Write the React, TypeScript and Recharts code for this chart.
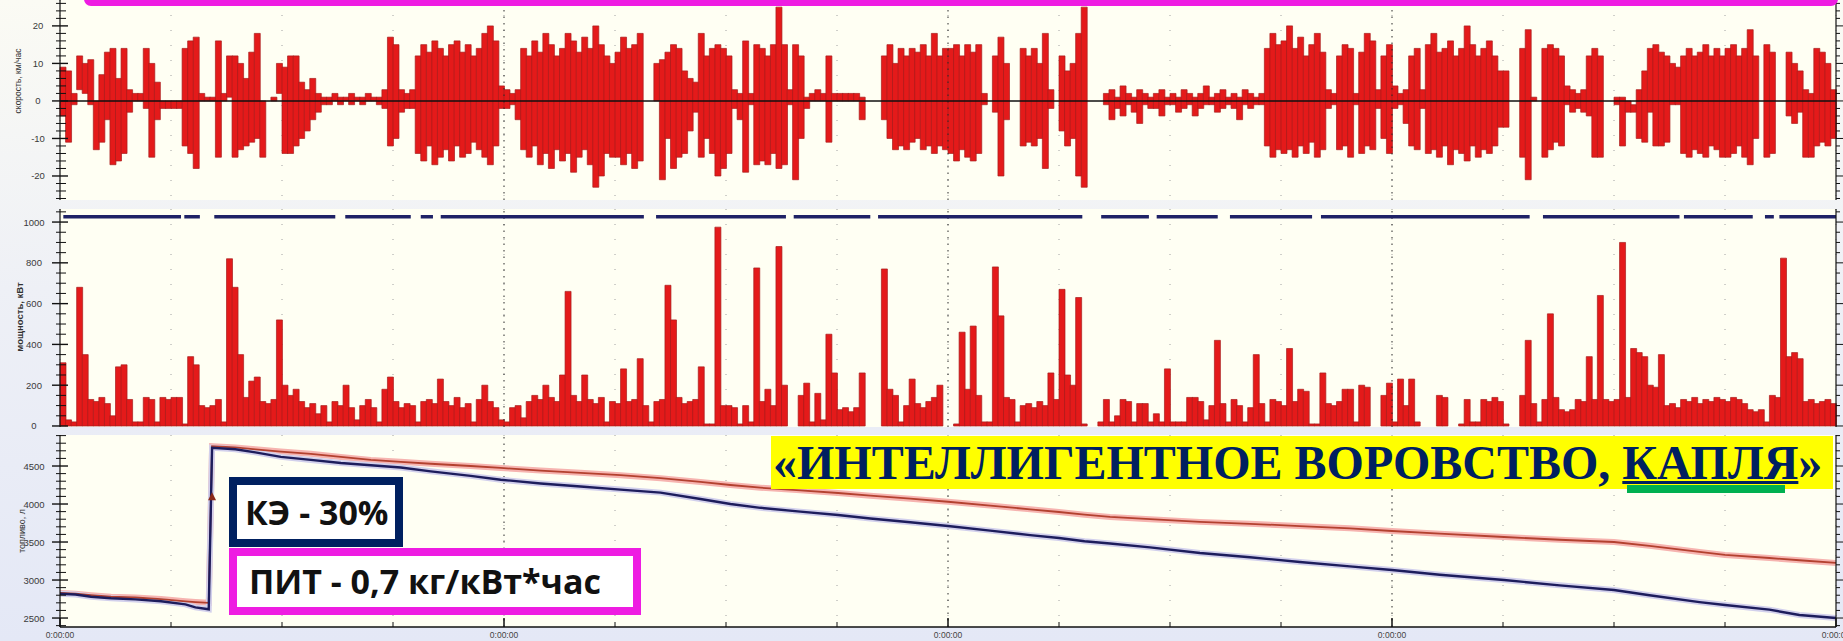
import React from "react";
import {
  ComposedChart,
  Bar,
  Line,
  XAxis,
  YAxis,
  CartesianGrid,
  ReferenceLine,
  ReferenceDot,
} from "recharts";

// ---- time axis: 16 grid steps, a label every 4th ----
const TIME_TICKS = [0, 100, 200, 300, 400, 500, 600, 700, 800, 900, 1000, 1100, 1200, 1300, 1400, 1500, 1600];
const LABELLED_TIMES = [0, 400, 800, 1200, 1600];
const TIME_LABEL = "0:00:00";
const BIN = 5; // one sample bin, in time units

// ---- speed, km/h: per bin upper and lower value (20 bins per grid step) ----
const speedHi = [
  9, 8, 2, 12, 10, 11, 0, 7, 13, 14, 6, 14, 3, 2, 2, 14, 10, 5, 0, 0,
  0, 0, 14, 16, 17, 2, 1, 1, 16, 2, 12, 12, 10, 6, 13, 18, 0, 0, 1, 10,
  9, 12, 12, 5, 3, 6, 2, 1, 1, 2, 1, 1, 2, 1, 1, 2, 1, 1, 3, 17,
  15, 3, 2, 3, 12, 15, 13, 16, 14, 12, 15, 16, 13, 15, 12, 14, 18, 20, 16, 4,
  3, 2, 3, 14, 12, 16, 13, 18, 15, 12, 14, 18, 16, 13, 17, 14, 20, 15, 12, 10,
  13, 17, 14, 15, 18, 0, 0, 10, 11, 13, 15, 14, 8, 6, 5, 18, 12, 14, 15, 14,
  12, 3, 2, 16, 2, 15, 14, 12, 15, 25, 15, 3, 15, 12, 1, 2, 3, 2, 12, 2,
  2, 2, 2, 2, 1, 0, 0, 0, 12, 15, 10, 14, 12, 14, 13, 15, 12, 18, 12, 14,
  14, 15, 12, 15, 13, 15, 2, 0, 12, 17, 10, 0, 0, 14, 12, 14, 10, 18, 3, 0,
  12, 8, 10, 18, 25, 0, 0, 0, 2, 3, 1, 4, 2, 1, 3, 2, 1, 2, 3, 1,
  2, 1, 3, 2, 1, 2, 4, 1, 2, 3, 1, 2, 1, 3, 2, 1, 2, 14, 18, 15,
  16, 20, 14, 17, 12, 15, 18, 13, 3, 2, 12, 15, 14, 2, 13, 18, 16, 3, 12, 15,
  4, 2, 3, 12, 14, 3, 15, 18, 13, 14, 16, 12, 14, 20, 15, 12, 14, 16, 12, 8,
  8, 0, 0, 14, 19, 1, 0, 14, 15, 14, 12, 4, 3, 2, 3, 12, 14, 12, 0, 0,
  1, 1, 0, -1, 3, 8, 14, 15, 13, 12, 10, 9, 12, 14, 12, 13, 15, 12, 14, 12,
  14, 15, 12, 14, 19, 12, 0, 15, 13, 0, 0, 13, 10, 8, 3, 2, 14, 13, 10, 3,
];
const speedLo = [
  -4, -11, -1, 3, 2, -1, -13, -11, -5, -17, -16, -14, -3, 0, 0, -2, -15, -5, -2, -2,
  -2, -2, -12, -14, -18, 0, 0, 0, -15, 0, 1, -15, -13, -12, -11, -10, -15, 0, 0, 2,
  -14, -14, -12, -10, -8, -5, -3, -1, -1, 0, -1, 0, -1, 0, -1, 0, 0, -1, -2, -12,
  -10, -3, -2, -2, -14, -16, -12, -17, -15, -13, -16, -12, -15, -14, -11, -13, -15, -17, -12, -2,
  -2, -1, -5, -13, -15, -12, -17, -14, -18, -13, -16, -14, -19, -15, -13, -17, -23, -20, -14, -15,
  -15, -17, -14, -18, -16, 0, 0, 0, -21, -10, -18, -15, -14, -8, -3, -15, -10, -14, -20, -18,
  -14, -2, -5, -19, -1, -17, -16, -17, -14, -18, -17, -1, -21, -10, -2, 0, 0, 0, -11, 0,
  0, 0, 0, 0, -5, 0, 0, 0, -5, -10, -13, -12, -13, -11, -10, -13, -12, -14, -12, -13,
  -14, -16, -13, -15, -16, -14, -1, 0, -3, -20, -5, 0, 0, -12, -11, -12, -10, -18, -2, 0,
  -8, -12, -10, -20, -23, 0, 0, 0, -1, -5, -2, -4, -1, -3, -6, -1, -2, -2, -4, -1,
  -1, -3, -2, -1, -4, -2, -1, -1, -3, -2, -1, -2, -5, -1, -2, -1, -1, -12, -15, -13,
  -14, -13, -15, -12, -14, -11, -15, -13, -2, -1, -13, -12, -15, -1, -14, -12, -13, -2, -10, -14,
  -2, -1, -6, -12, -13, -2, -14, -13, -15, -12, -17, -13, -14, -16, -12, -15, -13, -14, -12, -7,
  -7, 0, 0, -15, -21, 0, 0, -15, -13, -11, -12, -1, -3, -2, -3, -4, -15, -15, 0, 0,
  -1, -12, -3, -3, -10, -11, -3, -12, -12, -11, -1, -1, -14, -15, -13, -14, -15, -12, -13, -15,
  -15, -14, -12, -15, -17, -10, 0, -15, -14, 0, 0, -4, -6, -3, -15, -15, -12, -11, -12, -10,
];

// ---- power, kW per bin ----
const power = [
  310, 30, 20, 680, 350, 130, 120, 140, 110, 50, 290, 300, 130, 20, 20, 140, 130, 20, 140, 130,
  140, 140, 10, 340, 300, 100, 90, 100, 130, 20, 820, 680, 350, 140, 220, 240, 120, 110, 130, 520,
  200, 150, 180, 120, 90, 110, 60, 100, 20, 120, 100, 200, 90, 30, 100, 130, 90, 20, 180, 240,
  120, 90, 110, 100, 20, 120, 130, 110, 230, 120, 100, 140, 90, 110, 20, 130, 200, 120, 90, 30,
  20, 90, 100, 40, 120, 150, 130, 200, 140, 120, 250, 660, 150, 120, 250, 130, 110, 140, 20, 120,
  110, 280, 120, 130, 330, 100, 20, 120, 130, 690, 520, 140, 110, 120, 130, 290, 10, 10, 975, 100,
  100, 90, 10, 100, 20, 775, 120, 180, 100, 880, 200, 0, 0, 150, 210, 20, 160, 30, 450, 260,
  80, 90, 70, 90, 260, 0, 0, 0, 770, 180, 150, 20, 100, 230, 110, 90, 120, 140, 200, 0,
  0, 10, 460, 180, 490, 150, 20, 20, 780, 540, 140, 130, 20, 100, 110, 90, 120, 100, 260, 130,
  670, 250, 200, 630, 10, 0, 0, 20, 130, 20, 50, 130, 120, 20, 110, 110, 20, 60, 20, 280,
  20, 20, 20, 140, 140, 120, 30, 100, 420, 110, 20, 130, 100, 20, 90, 350, 110, 20, 130, 120,
  100, 380, 120, 180, 170, 10, 10, 260, 110, 100, 120, 180, 180, 20, 200, 190, 0, 0, 150, 210,
  20, 230, 100, 230, 20, 0, 0, 0, 150, 140, 0, 0, 10, 130, 20, 20, 130, 120, 140, 120,
  10, 0, 0, 150, 420, 110, 20, 130, 550, 140, 80, 70, 80, 130, 120, 340, 130, 640, 130, 120,
  130, 900, 140, 380, 360, 340, 200, 190, 350, 100, 110, 90, 130, 120, 140, 110, 130, 120, 140, 130,
  120, 140, 130, 110, 80, 70, 80, 20, 150, 140, 823, 340, 360, 330, 120, 130, 110, 120, 130, 110,
];

// ---- power limit line: level and its visible segments ----
const LIMIT_LEVEL = 1026;
const limitStart = [3, 112, 139, 257, 325, 343, 537, 661, 737, 938, 988, 1054, 1136, 1336, 1463, 1536, 1549];
const limitEnd = [109, 126, 248, 316, 336, 526, 654, 730, 921, 981, 1043, 1128, 1324, 1459, 1525, 1544, 1600];

// ---- fuel, litres ----
const fuelTime = [
  0, 14, 28, 46, 68, 91, 113, 122, 134, 137, 158, 176, 199, 226, 253, 280, 307, 334, 370, 397,
  433, 469, 505, 541, 577, 604, 631, 667, 701, 730, 766, 800, 838, 874, 900, 923, 946, 982, 1027,
  1072, 1117, 1162, 1200, 1243, 1301, 1351, 1400, 1432, 1477, 1500, 1540, 1567, 1600,
];
const fuelSensor = [
  2830, 2820, 2800, 2780, 2770, 2750, 2720, 2710, 2700, 4760, 4745, 4720, 4690, 4660, 4620, 4580, 4555, 4530, 4500, 4475,
  4440, 4410, 4380, 4340, 4290, 4250, 4215, 4180, 4145, 4110, 4070, 4030, 3980, 3930, 3895, 3860, 3830, 3800, 3765,
  3740, 3710, 3680, 3645, 3610, 3566, 3530, 3500, 3450, 3370, 3330, 3290, 3260, 3225,
];
const fuelCalc = [
  2820, 2810, 2780, 2760, 2745, 2720, 2680, 2640, 2615, 4740, 4720, 4680, 4620, 4580, 4540, 4510, 4480, 4430, 4370, 4320,
  4270, 4230, 4190, 4150, 4066, 4000, 3950, 3900, 3855, 3810, 3760, 3710, 3650, 3590, 3553, 3510, 3480, 3430, 3355,
  3300, 3237, 3180, 3132, 3070, 3000, 2930, 2868, 2800, 2710, 2671, 2610, 2540, 2500,
];
const REFILL_MARK = { t: 137, litres: 4090 };

// ---- y axes ----
const SPEED_DOMAIN = [-26.4, 26.9];
const SPEED_TICKS = [-26, -24, -22, -20, -18, -16, -14, -12, -10, -8, -6, -4, -2, 0, 2, 4, 6, 8, 10, 12, 14, 16, 18, 20, 22, 24, 26];
const SPEED_LABELS = [-20, -10, 0, 10, 20];
const POWER_DOMAIN = [-5, 1064];
const POWER_TICKS = [0, 50, 100, 150, 200, 250, 300, 350, 400, 450, 500, 550, 600, 650, 700, 750, 800, 850, 900, 950, 1000, 1050];
const POWER_LABELS = [0, 200, 400, 600, 800, 1000];
const FUEL_DOMAIN = [2382, 4908];
const FUEL_TICKS = [2400, 2500, 2600, 2700, 2800, 2900, 3000, 3100, 3200, 3300, 3400, 3500, 3600, 3700, 3800, 3900, 4000, 4100, 4200, 4300, 4400, 4500, 4600, 4700, 4800, 4900];
const FUEL_LABELS = [2500, 3000, 3500, 4000, 4500];

const speedRows = speedHi.map((hi, i) => ({ t: BIN * i + BIN / 2, range: [speedLo[i], hi] }));
const powerRows = power.map((kw, i) => ({ t: BIN * i + BIN / 2, kw }));
const limitRows = limitStart.flatMap((s, i) => [
  { t: s, v: LIMIT_LEVEL },
  { t: limitEnd[i], v: LIMIT_LEVEL },
  { t: limitEnd[i] + 0.5, v: null },
]);
const zeroRows = [{ t: 0, z: 0 }, { t: 1600, z: 0 }];
const fuelRows = fuelTime.map((t, i) => ({ t, sensor: fuelSensor[i], calc: fuelCalc[i] }));

const W = 1843;
const PLOT_BG = "#fffff3";
const RED = "#e41a1a";
const RED_EDGE = "#a81c1c";
const SANS = '"Liberation Sans", Arial, sans-serif';

const leftTick = (labels: number[], dx: number) => (p: any) => {
  const v = p.payload.value;
  const major = labels.includes(v);
  return (
    <g>
      <line x1={p.x - (major ? 8 : 4)} x2={p.x + (major ? 8 : 6)} y1={p.y} y2={p.y} stroke="#111" strokeWidth={major ? 1.4 : 1} />
      {major && (
        <text x={p.x - dx} y={p.y + 3.5} textAnchor="middle" fontSize={9.5} fill="#3a3a3a" fontFamily={SANS}>
          {v}
        </text>
      )}
    </g>
  );
};

const rightTick = (labels: number[]) => (p: any) => {
  const major = labels.includes(p.payload.value);
  return <line x1={p.x} x2={p.x + (major ? 7 : 4)} y1={p.y} y2={p.y} stroke="#111" strokeWidth={1} />;
};

const edgeTick = (dir: number, withLabels = false) => (p: any) => {
  const v = p.payload.value;
  const major = LABELLED_TIMES.includes(v);
  return (
    <g>
      <line x1={p.x} x2={p.x} y1={p.y} y2={p.y + dir * (major ? 9 : 5)} stroke="#111" strokeWidth={major ? 1.5 : 1} />
      {withLabels && major && (
        <text x={p.x} y={p.y + 11} textAnchor="middle" fontSize={8.5} fill="#444" fontFamily={SANS}>
          {TIME_LABEL}
        </text>
      )}
    </g>
  );
};

const timeAxis = (tick: any, height: number, extra: any = {}) => (
  <XAxis
    type="number"
    dataKey="t"
    domain={[0, 1600]}
    ticks={TIME_TICKS}
    interval={0}
    allowDataOverflow
    height={height}
    tickSize={0}
    tickMargin={0}
    tickLine={false}
    tick={tick}
    axisLine={{ stroke: "#111", strokeWidth: 1.5 }}
    {...extra}
  />
);

// hidden band axis so every bin bar fills its own slot
const binAxis = <XAxis xAxisId="bins" type="category" dataKey="t" hide />;

const valueAxes = (domain: number[], ticks: number[], labels: number[], dx: number) => [
  <YAxis
    key="l"
    type="number"
    domain={domain}
    ticks={ticks}
    interval={0}
    allowDataOverflow
    width={60}
    tickSize={0}
    tickMargin={0}
    tickLine={false}
    tick={leftTick(labels, dx)}
    axisLine={{ stroke: "#111", strokeWidth: 1.2 }}
  />,
  <YAxis
    key="r"
    yAxisId="r"
    orientation="right"
    type="number"
    domain={domain}
    ticks={ticks}
    interval={0}
    allowDataOverflow
    width={7}
    tickSize={0}
    tickMargin={0}
    tickLine={false}
    tick={rightTick(labels)}
    axisLine={{ stroke: "#111", strokeWidth: 1.2 }}
  />,
];

const grid = <CartesianGrid horizontal={false} fill={PLOT_BG} fillOpacity={1} stroke="#a0a0a0" strokeDasharray="1 14" />;
const majorLines = [400, 800, 1200].map((t) => (
  <ReferenceLine key={t} x={t} stroke="#2a2a2a" strokeDasharray="1.5 5" strokeWidth={1} />
));

const axisTitle = (text: string, cx: number, cy: number, size: number, bold = false) => (
  <div
    style={{
      position: "absolute",
      left: cx,
      top: cy,
      transform: "translate(-50%, -50%) rotate(-90deg)",
      whiteSpace: "nowrap",
      fontFamily: SANS,
      fontSize: size,
      lineHeight: 1,
      fontWeight: bold ? 700 : 400,
      color: "#333",
    }}
  >
    {text}
  </div>
);

export default function App() {
  return (
    <div
      style={{
        position: "relative",
        width: W,
        height: 641,
        overflow: "hidden",
        background: "linear-gradient(180deg, #fbfbf4 0%, #eef0f6 45%, #e4e8f6 100%)",
      }}
    >
      <style>{"body{margin:0}"}</style>

      {/* speed */}
      <div style={{ position: "absolute", left: 0, top: 0 }}>
        <ComposedChart
          width={W}
          height={200}
          data={speedRows}
          margin={{ top: 0, right: 0, bottom: 0, left: 0 }}
          barCategoryGap={0}
          barGap={0}
        >
          {grid}
          {timeAxis(edgeTick(-1), 0)}
          {binAxis}
          {valueAxes(SPEED_DOMAIN, SPEED_TICKS, SPEED_LABELS, 22)}
          {majorLines}
          <Bar xAxisId="bins" dataKey="range" fill={RED} stroke={RED_EDGE} strokeWidth={0.7} isAnimationActive={false} />
          <Line data={zeroRows} dataKey="z" stroke="#111" strokeWidth={1.6} dot={false} isAnimationActive={false} />
        </ComposedChart>
      </div>

      {/* power: svg runs 8px past the plot so the "0" label is not clipped */}
      <div style={{ position: "absolute", left: 0, top: 209 }}>
        <ComposedChart
          width={W}
          height={226}
          data={powerRows}
          margin={{ top: 0, right: 0, bottom: 8, left: 0 }}
          barCategoryGap={0}
          barGap={0}
        >
          {grid}
          {timeAxis(edgeTick(-1), 0)}
          {timeAxis(edgeTick(1), 0, { xAxisId: "top", orientation: "top" })}
          {binAxis}
          {valueAxes(POWER_DOMAIN, POWER_TICKS, POWER_LABELS, 26)}
          {majorLines}
          <Bar xAxisId="bins" dataKey="kw" fill={RED} stroke={RED_EDGE} strokeWidth={0.7} isAnimationActive={false} />
          <Line
            data={limitRows}
            dataKey="v"
            stroke="#1f2266"
            strokeWidth={3.5}
            dot={false}
            connectNulls={false}
            isAnimationActive={false}
          />
        </ComposedChart>
      </div>

      {/* fuel */}
      <div style={{ position: "absolute", left: 0, top: 435 }}>
        <ComposedChart width={W} height={206} data={fuelRows} margin={{ top: 0, right: 0, bottom: 0, left: 0 }}>
          {grid}
          {timeAxis(edgeTick(-1, true), 14)}
          {timeAxis(edgeTick(1), 0, { xAxisId: "top", orientation: "top" })}
          {valueAxes(FUEL_DOMAIN, FUEL_TICKS, FUEL_LABELS, 26)}
          {majorLines}
          <Line type="linear" dataKey="sensor" stroke="#f6b4b0" strokeWidth={6} dot={false} isAnimationActive={false} />
          <Line type="linear" dataKey="calc" stroke="#d2d0ec" strokeWidth={6} dot={false} isAnimationActive={false} />
          <Line type="linear" dataKey="sensor" stroke="#b3412f" strokeWidth={1.8} dot={false} isAnimationActive={false} />
          <Line type="linear" dataKey="calc" stroke="#1d1d5c" strokeWidth={2.4} dot={false} isAnimationActive={false} />
          <ReferenceDot
            x={REFILL_MARK.t}
            y={REFILL_MARK.litres}
            r={4}
            shape={(p: any) => (
              <path d={`M${p.cx},${p.cy - 5} L${p.cx + 4},${p.cy + 3} L${p.cx - 4},${p.cy + 3} Z`} fill="#8a2a1a" />
            )}
          />
        </ComposedChart>
      </div>

      {axisTitle("скорость, км/час", 18, 81, 8.5)}
      {axisTitle("мощность, кВт", 20, 317, 9.5, true)}
      {axisTitle("топливо, л", 22, 531, 9)}

      {/* magenta frame edge at the top */}
      <div
        style={{
          position: "absolute",
          left: 84,
          top: -10,
          width: 1754,
          height: 16,
          background: "#ee1ce2",
          borderRadius: 7,
        }}
      />

      {/* headline */}
      <div
        style={{
          position: "absolute",
          left: 771,
          top: 436,
          width: 1062,
          height: 53,
          background: "#ffff00",
          boxSizing: "border-box",
          paddingLeft: 2,
          fontFamily: '"Liberation Serif", "Times New Roman", serif',
          fontWeight: 700,
          fontSize: 48,
          lineHeight: "53px",
          color: "#002060",
          whiteSpace: "nowrap",
        }}
      >
        «ИНТЕЛЛИГЕНТНОЕ ВОРОВСТВО,{" "}
        <span style={{ textDecoration: "underline", textDecorationThickness: 3, textUnderlineOffset: 2 }}>КАПЛЯ</span>»
      </div>
      <div style={{ position: "absolute", left: 1627, top: 485, width: 158, height: 8, background: "#00b050" }} />

      {/* callouts */}
      <div
        style={{
          position: "absolute",
          left: 229,
          top: 477,
          width: 174,
          height: 70,
          boxSizing: "border-box",
          border: "8px solid #002060",
          background: "#ffffff",
          paddingLeft: 8,
          fontFamily: '"Open Sans", sans-serif',
          fontWeight: 700,
          fontSize: 34,
          lineHeight: "54px",
          color: "#111",
          whiteSpace: "nowrap",
        }}
      >
        КЭ - 30%
      </div>
      <div
        style={{
          position: "absolute",
          left: 229,
          top: 548,
          width: 412,
          height: 67,
          boxSizing: "border-box",
          border: "8px solid #ee1ce2",
          background: "#ffffff",
          paddingLeft: 12,
          fontFamily: '"Open Sans", sans-serif',
          fontWeight: 700,
          fontSize: 34,
          lineHeight: "51px",
          color: "#111",
          whiteSpace: "nowrap",
        }}
      >
        ПИТ - 0,7 кг/кВт*час
      </div>
    </div>
  );
}
